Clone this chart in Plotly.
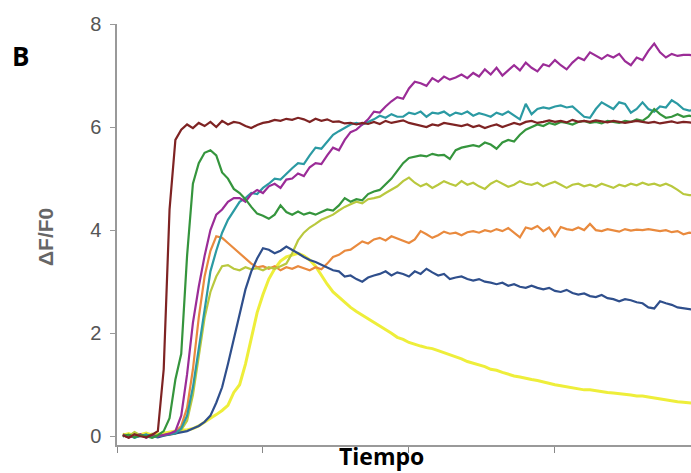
import plotly.graph_objects as go

# Time axis (arbitrary units, one sample every 4 units)
tiempo = list(range(4, 400, 4))

# Fluorescence traces (ΔF/F0), one list per cell
rojo_oscuro = [
    0.02, -0.03, 0.04, 0.0, -0.02, 0.03, 0.1, 1.3, 4.4, 5.75,
    5.95, 6.05, 5.98, 6.08, 6.02, 6.1, 6.0, 6.12, 6.05, 6.1,
    6.08, 6.02, 5.98, 6.04, 6.08, 6.1, 6.14, 6.12, 6.16, 6.14,
    6.18, 6.15, 6.1, 6.16, 6.12, 6.15, 6.1, 6.11, 6.07, 6.08,
    6.05, 6.08, 6.06, 6.1, 6.06, 6.12, 6.08, 6.1, 6.13, 6.08,
    6.05, 6.02, 6.0, 6.05, 6.03, 6.08, 6.06, 6.04, 6.02, 6.05,
    6.0, 6.03, 5.98, 6.02, 6.05, 6.0, 6.04, 6.08, 6.05, 6.1,
    6.12, 6.08, 6.1, 6.13, 6.1, 6.12, 6.09, 6.14, 6.1, 6.12,
    6.1, 6.13, 6.11, 6.09, 6.12, 6.1, 6.08, 6.1, 6.12, 6.1,
    6.08, 6.1, 6.07, 6.09, 6.11, 6.08, 6.1, 6.09, 6.08,
]
verde = [
    0.0, 0.03, -0.02, 0.02, 0.0, -0.03, 0.02, 0.1, 0.35, 1.1,
    1.6, 3.5, 4.9, 5.3, 5.5, 5.55, 5.45, 5.12, 5.0, 4.8,
    4.72, 4.6, 4.45, 4.32, 4.28, 4.22, 4.3, 4.48, 4.35, 4.3,
    4.36, 4.3, 4.34, 4.3, 4.35, 4.4, 4.38, 4.48, 4.62, 4.55,
    4.6, 4.58, 4.7, 4.75, 4.78, 4.9, 5.0, 5.15, 5.3, 5.4,
    5.42, 5.45, 5.43, 5.48, 5.45, 5.46, 5.38, 5.55, 5.6, 5.62,
    5.65, 5.62, 5.7, 5.66, 5.58, 5.7, 5.75, 5.72, 5.85, 5.95,
    6.0, 6.05, 6.02, 6.08, 6.05, 6.1, 6.08, 6.05, 6.1, 6.12,
    6.08, 6.1, 6.07, 6.12, 6.1, 6.08, 6.12, 6.1, 6.15, 6.12,
    6.2, 6.35, 6.25, 6.18, 6.2, 6.25, 6.2, 6.22, 6.2,
]
magenta = [
    0.03, -0.02, 0.0, 0.04, -0.03, 0.02, 0.0, 0.03, 0.05, 0.1,
    0.4, 1.2, 2.2, 2.9, 3.5, 4.0, 4.3, 4.4, 4.55, 4.62,
    4.62, 4.55, 4.7, 4.78, 4.72, 4.85, 4.9, 4.82, 4.98, 5.0,
    5.1, 5.05, 5.22, 5.3, 5.28, 5.45, 5.6, 5.55, 5.75, 5.9,
    5.95, 6.05, 6.15, 6.3, 6.28, 6.4, 6.5, 6.58, 6.55, 6.75,
    6.88, 6.85, 6.8, 6.95, 6.88, 6.98, 6.92, 6.96, 7.02, 6.95,
    7.05, 6.98, 7.12, 7.02, 7.15, 7.0, 7.1, 7.2, 7.1, 7.25,
    7.15, 7.08, 7.22, 7.18, 7.3, 7.2, 7.12, 7.25, 7.35, 7.3,
    7.45, 7.38, 7.32, 7.4, 7.35, 7.42, 7.28, 7.2, 7.35, 7.3,
    7.48, 7.62, 7.45, 7.35, 7.42, 7.38, 7.4, 7.4, 7.38,
]
turquesa = [
    0.0, 0.02, -0.03, 0.01, 0.03, -0.02, 0.0, 0.02, 0.04, 0.06,
    0.15, 0.4, 0.95, 1.7, 2.5, 3.2, 3.6, 3.95, 4.2, 4.38,
    4.55, 4.62, 4.72, 4.7, 4.82, 4.9, 5.0, 4.98, 5.1, 5.2,
    5.3, 5.28, 5.45, 5.6, 5.58, 5.72, 5.85, 5.92, 5.98, 6.05,
    6.08, 6.05, 6.1, 6.15, 6.22, 6.18, 6.25, 6.2, 6.2, 6.28,
    6.25, 6.3, 6.2, 6.28, 6.26, 6.3, 6.22, 6.28, 6.25, 6.3,
    6.22, 6.27, 6.24, 6.2, 6.28, 6.24, 6.3, 6.22, 6.15, 6.45,
    6.25, 6.35, 6.38, 6.36, 6.4, 6.42, 6.38, 6.4, 6.3, 6.2,
    6.18, 6.35, 6.48, 6.42, 6.35, 6.48, 6.45, 6.28, 6.35, 6.48,
    6.35, 6.3, 6.4, 6.38, 6.52, 6.45, 6.35, 6.32, 6.33,
]
naranja = [
    0.02, -0.02, 0.0, 0.03, -0.01, 0.02, 0.0, 0.03, 0.05, 0.08,
    0.2, 0.55, 1.3, 2.3, 3.1, 3.6, 3.88, 3.85, 3.75, 3.65,
    3.55, 3.45, 3.35, 3.28, 3.3, 3.25, 3.3, 3.22, 3.28, 3.25,
    3.3, 3.26, 3.22, 3.28, 3.24, 3.35, 3.48, 3.52, 3.6, 3.62,
    3.7, 3.78, 3.74, 3.82, 3.85, 3.8, 3.88, 3.84, 3.8, 3.75,
    3.82, 3.98, 3.92, 3.85, 3.9, 3.97, 3.93, 3.95, 3.9, 3.96,
    3.98, 3.95, 4.0, 3.97, 4.02, 3.98, 4.04, 3.95, 3.86, 4.05,
    4.02, 4.08, 3.98, 4.05, 3.88, 4.06, 4.02, 4.0, 4.05, 4.0,
    4.12, 4.0, 3.98, 4.02, 4.0, 3.97, 4.02, 3.99, 4.01, 4.0,
    4.02, 4.0, 3.98, 4.0, 3.96, 3.98, 3.92, 3.95, 3.94,
]
oliva = [
    0.05, 0.0, 0.08, 0.02, -0.02, 0.05, 0.0, 0.02, 0.03, 0.05,
    0.12, 0.3, 0.8, 1.6, 2.3, 2.8, 3.1, 3.3, 3.32, 3.25,
    3.22, 3.28, 3.24, 3.26, 3.22, 3.28, 3.25, 3.3, 3.35, 3.55,
    3.8, 3.95, 4.05, 4.12, 4.2, 4.25, 4.3, 4.38, 4.45, 4.5,
    4.55, 4.52, 4.6, 4.62, 4.65, 4.72, 4.78, 4.85, 4.95, 5.02,
    4.92, 4.85, 4.9, 4.82, 4.88, 4.95, 4.9, 4.86, 4.95, 4.88,
    4.92, 4.85, 4.8, 4.9, 4.96, 4.9, 4.84, 4.88, 4.95, 4.9,
    4.88, 4.92, 4.85, 4.9, 4.94, 4.88, 4.82, 4.88, 4.9, 4.85,
    4.88, 4.84, 4.9, 4.86, 4.82, 4.88, 4.85, 4.9, 4.87, 4.92,
    4.88, 4.9, 4.86, 4.9, 4.85, 4.78, 4.7, 4.68, 4.68,
]
azul = [
    0.0, 0.02, -0.02, 0.0, 0.03, 0.0, -0.02, 0.01, 0.03, 0.05,
    0.08, 0.1, 0.15, 0.2, 0.28, 0.4, 0.65, 0.95, 1.4, 1.9,
    2.4, 2.85, 3.2, 3.45, 3.65, 3.62, 3.55, 3.6, 3.68, 3.62,
    3.55, 3.48, 3.42, 3.38, 3.33, 3.28, 3.22, 3.2, 3.1, 3.12,
    3.05, 3.0, 3.08, 3.12, 3.15, 3.2, 3.12, 3.18, 3.15, 3.1,
    3.2, 3.15, 3.25, 3.18, 3.12, 3.15, 3.05, 3.08, 3.1, 3.05,
    3.02, 3.05, 3.0, 2.98, 2.95, 2.98, 2.92, 2.95, 2.9, 2.88,
    2.92, 2.88, 2.85, 2.88, 2.82, 2.8, 2.84, 2.78, 2.75, 2.77,
    2.72, 2.7, 2.74, 2.68, 2.66, 2.62, 2.66, 2.64, 2.6, 2.58,
    2.5, 2.48, 2.62, 2.58, 2.55, 2.5, 2.48, 2.46, 2.45,
]
amarillo = [
    0.02, 0.05, 0.0, 0.03, 0.06, 0.02, 0.04, 0.06, 0.08, 0.1,
    0.12, 0.12, 0.15, 0.2, 0.28, 0.35, 0.42, 0.5, 0.6, 0.85,
    1.0, 1.4, 1.9, 2.4, 2.75, 3.05, 3.25, 3.4, 3.48, 3.52,
    3.55, 3.5, 3.42, 3.3, 3.12, 2.95, 2.8, 2.7, 2.6, 2.5,
    2.42, 2.35, 2.28, 2.22, 2.15, 2.08, 2.0, 1.92, 1.88, 1.82,
    1.78, 1.75, 1.72, 1.7, 1.66, 1.62, 1.58, 1.55, 1.5, 1.45,
    1.42, 1.38, 1.35, 1.3, 1.28, 1.24, 1.2, 1.17, 1.15, 1.12,
    1.1, 1.08, 1.05, 1.03, 1.0, 0.98, 0.96, 0.94, 0.92, 0.9,
    0.9, 0.88, 0.87, 0.85, 0.84, 0.83, 0.82, 0.8, 0.78, 0.78,
    0.76, 0.74, 0.72, 0.7, 0.68, 0.67, 0.66, 0.65, 0.64,
]

y_ticks = [0, 2, 4, 6, 8]
x_ticks = [0, 100, 200, 300]

trazas = [
    (amarillo, "#eeee3a", 3),
    (naranja, "#e98a3e", 2.2),
    (oliva, "#b9c83e", 2.2),
    (azul, "#2f4f8c", 2.2),
    (turquesa, "#2b9aa3", 2.2),
    (magenta, "#9b2c97", 2.2),
    (verde, "#35953d", 2.2),
    (rojo_oscuro, "#7e2323", 2.2),
]

fig = go.Figure()
for valores, color, ancho in trazas:
    fig.add_trace(go.Scatter(
        x=tiempo, y=valores, mode="lines",
        line=dict(color=color, width=ancho),
        showlegend=False, hoverinfo="skip",
    ))

# Plot area in page pixels
IZQ, DER, ARR, ABA = 117, 691, 24, 445

fig.update_layout(
    width=691, height=473,
    margin=dict(l=IZQ, r=691 - DER, t=ARR, b=473 - ABA),
    paper_bgcolor="white", plot_bgcolor="white",
    font=dict(family="Liberation Sans, Arial, sans-serif"),
    xaxis=dict(
        range=[0, 393.2], tickvals=x_ticks, showticklabels=False,
        ticks="outside", ticklen=6, tickcolor="#888", tickwidth=1,
        showline=True, linecolor="#999", linewidth=1.5,
        showgrid=False, zeroline=False,
    ),
    yaxis=dict(
        range=[-0.17, 8], tickvals=y_ticks,
        ticks="outside", ticklen=5, tickcolor="#999", tickwidth=1,
        ticklabelstandoff=5,
        tickfont=dict(size=20, color="#555"),
        showline=True, linecolor="#999", linewidth=1.5,
        showgrid=False, zeroline=False,
    ),
)

# Free-standing labels, positioned by page pixel
etiquetas = [
    ("<b>Tiempo</b>", 381, 456, 0, 23, "black", "Open Sans, sans-serif"),
    ("<b>B</b>", 20, 56, 0, 26, "black", "Open Sans, sans-serif"),
    ("<b>ΔF/F0</b>", 45, 237, -90, 21, "#666", "Liberation Sans, Arial, sans-serif"),
]
for texto, px, py, ang, tam, col, fam in etiquetas:
    fig.add_annotation(
        text=texto, showarrow=False, textangle=ang,
        xref="paper", yref="paper",
        x=(px - IZQ) / (DER - IZQ), y=(ABA - py) / (ABA - ARR),
        xanchor="center", yanchor="middle",
        font=dict(size=tam, color=col, family=fam),
    )

fig.write_html("out.html")
